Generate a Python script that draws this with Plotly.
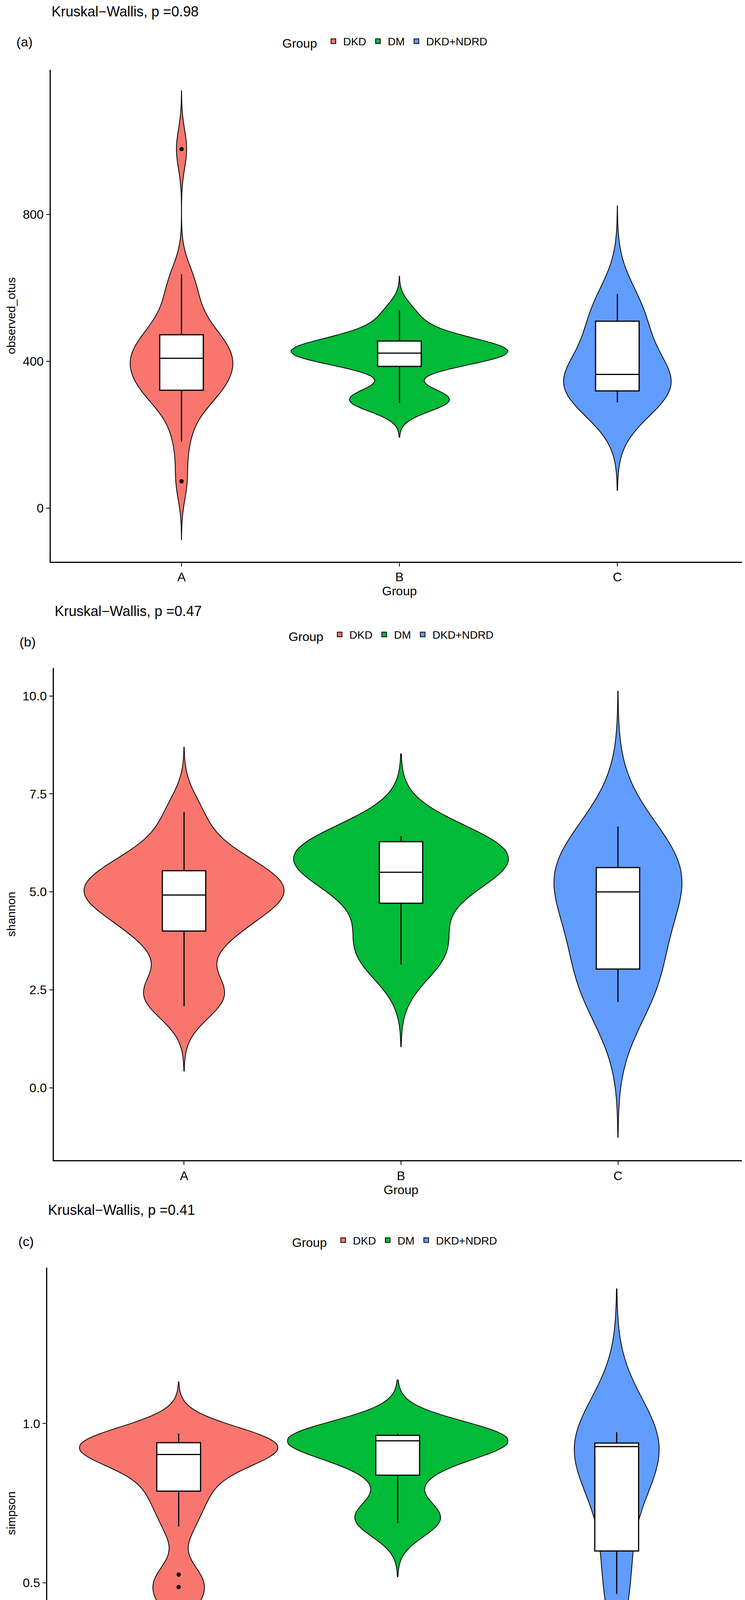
import plotly.graph_objects as go

W, H = 1908, 7648
groups = ["A", "B", "C"]
group_names = ["DKD", "DM", "DKD+NDRD"]
colors = ["#F8766D", "#00BA38", "#619CFF"]

panel_labels = ["(a)", "(b)", "(c)", "(d)", "(e)"]
metrics = ["observed_otus", "shannon", "simpson", "chao1", "pielou_e"]
p_values = ["0.98", "0.47", "0.41", "0.99", "0.3"]

# samples per group
otus_A = [73, 181, 250, 290, 310, 321, 330, 345, 360, 375, 390, 400, 408, 415, 430, 445, 460, 472, 490, 520, 560, 600, 637, 978]
otus_B = [286, 290, 295, 300, 305, 386, 400, 410, 415, 420, 422, 425, 428, 432, 440, 450, 455, 470, 500, 539]
otus_C = [288, 300, 319, 330, 340, 350, 364, 380, 480, 509, 520, 583]
shannon_A = [2.08, 2.4, 2.6, 3.6, 4.0, 4.3, 4.6, 4.8, 4.92, 5.0, 5.2, 5.4, 5.54, 5.8, 6.2, 7.04]
shannon_B = [3.15, 3.5, 3.8, 4.71, 5.2, 5.5, 5.7, 5.9, 6.0, 6.1, 6.28, 6.42]
shannon_C = [2.19, 2.6, 3.03, 3.5, 4.6, 5.0, 5.3, 5.5, 5.62, 6.0, 6.67]
simpson_A = [0.433, 0.487, 0.526, 0.677, 0.75, 0.788, 0.84, 0.87, 0.90, 0.903, 0.92, 0.93, 0.935, 0.94, 0.95, 0.955, 0.969]
simpson_B = [0.687, 0.70, 0.72, 0.838, 0.90, 0.93, 0.946, 0.95, 0.955, 0.96, 0.963, 0.969]
simpson_C = [0.465, 0.6, 0.85, 0.92, 0.928, 0.935, 0.939, 0.973]
chao1_A = [74, 185, 250, 295, 320, 335, 345, 360, 380, 400, 415, 422, 430, 445, 465, 488, 510, 540, 590, 648, 990]
chao1_B = [287, 292, 298, 303, 310, 390, 405, 415, 425, 430, 433, 438, 445, 459, 475, 505, 541]
chao1_C = [293, 310, 328, 340, 355, 375, 395, 480, 520, 540, 588]
pielou_A = [0.265, 0.32, 0.35, 0.461, 0.52, 0.56, 0.565, 0.59, 0.61, 0.62, 0.631, 0.66, 0.711]
pielou_B = [0.385, 0.42, 0.44, 0.537, 0.62, 0.65, 0.67, 0.68, 0.70, 0.705, 0.714]
pielou_C = [0.262, 0.32, 0.356, 0.45, 0.58, 0.597, 0.62, 0.634, 0.68, 0.724]

samples = [
    [otus_A, otus_B, otus_C],
    [shannon_A, shannon_B, shannon_C],
    [simpson_A, simpson_B, simpson_C],
    [chao1_A, chao1_B, chao1_C],
    [pielou_A, pielou_B, pielou_C],
]

# box statistics per group: q1, median, q3, lower whisker, upper whisker
box_q1 = [[321, 386, 319], [4.0, 4.71, 3.03], [0.788, 0.838, 0.60], [335, 390, 328], [0.461, 0.537, 0.356]]
box_med = [[408, 422, 364], [4.92, 5.50, 5.0], [0.903, 0.946, 0.928], [422, 430, 375], [0.565, 0.650, 0.597]]
box_q3 = [[472, 455, 509], [5.54, 6.28, 5.62], [0.940, 0.963, 0.939], [488, 459, 520], [0.631, 0.705, 0.634]]
box_lo = [[181, 286, 288], [2.08, 3.15, 2.19], [0.677, 0.687, 0.465], [185, 287, 293], [0.265, 0.385, 0.262]]
box_hi = [[637, 539, 583], [7.04, 6.42, 6.67], [0.969, 0.969, 0.973], [648, 541, 588], [0.711, 0.714, 0.724]]
outliers = [[[978, 73], [], []], [[], [], []], [[0.526, 0.487, 0.433], [], []], [[990, 74], [], []], [[], [], []]]

y_ticks = [[0, 400, 800], [0.0, 2.5, 5.0, 7.5, 10.0], [0.0, 0.5, 1.0], [0, 400, 800, 1200], [0.0, 0.4, 0.8]]
y_ticktext = [["0", "400", "800"], ["0.0", "2.5", "5.0", "7.5", "10.0"], ["0.0", "0.5", "1.0"],
              ["0", "400", "800", "1200"], ["0.0", "0.4", "0.8"]]

# ---- layout / style (pixel geometry) ----
y_ranges = [[-146, 1194], [-1.85, 10.71], [-0.053, 1.49], [-149, 1211], [-0.168, 1.153]]
bandwidths = [[53, 31, 80], [0.55, 0.70, 1.15], [0.054, 0.056, 0.15], [54, 31, 79], [0.058, 0.075, 0.123]]
vwidths = [[0.47, 0.995, 0.49], [0.92, 0.99, 0.59], [0.90, 1.0, 0.385], [0.45, 0.995, 0.48], [1.0, 1.0, 0.6]]
ax_top = [163, 1697, 3234, 4772, 6308]
ax_bot = [1424, 2959, 4494, 6033, 7568]
ax_left = [122, 130, 113, 140, 113]
kw_pos = [(122, 14), (130, 1551), (113, 3086), (140, 4622), (113, 6159)]
lab_pos = [(55, 91), (63, 1630), (59, 3167), (51, 4690), (61, 6241)]
leg_pos = [(713, 91), (729, 1612), (738, 3165), (722, 4699), (715, 6237)]

FONT = "Liberation Sans"
fig = go.Figure()
layout = dict(width=W, height=H, margin=dict(l=0, r=0, t=0, b=0), paper_bgcolor="white",
              plot_bgcolor="white", violinmode="overlay", boxmode="overlay",
              font=dict(family=FONT, color="black"), annotations=[], shapes=[])

for p in range(5):
    xa = "x" if p == 0 else f"x{p+1}"
    ya = "y" if p == 0 else f"y{p+1}"
    leg = "legend" if p == 0 else f"legend{p+1}"
    for g in range(3):
        data = samples[p][g]
        bw = bandwidths[p][g]
        fig.add_trace(go.Violin(
            x=[groups[g]] * len(data), y=data, name=group_names[g], legend=leg,
            fillcolor=colors[g], line=dict(color="black", width=2), opacity=1,
            width=vwidths[p][g], scalemode="width", bandwidth=bw, spanmode="manual",
            span=[min(data) - 3 * bw, max(data) + 3 * bw], points=False,
            box_visible=False, meanline_visible=False, hoverinfo="skip",
            xaxis=xa, yaxis=ya, showlegend=True))
    for g in range(3):
        fig.add_trace(go.Box(
            x=[groups[g]], q1=[box_q1[p][g]], median=[box_med[p][g]], q3=[box_q3[p][g]],
            lowerfence=[box_lo[p][g]], upperfence=[box_hi[p][g]], width=0.2, whiskerwidth=0,
            fillcolor="white", line=dict(color="black", width=3), boxpoints=False,
            showlegend=False, xaxis=xa, yaxis=ya, hoverinfo="skip"))
        if outliers[p][g]:
            fig.add_trace(go.Scatter(
                x=[groups[g]] * len(outliers[p][g]), y=outliers[p][g], mode="markers",
                marker=dict(color="black", size=11), showlegend=False, xaxis=xa, yaxis=ya))

    ydom = [1 - ax_bot[p] / H, 1 - ax_top[p] / H]
    xdom = [ax_left[p] / W, 1.0]
    axis_common = dict(showline=True, linecolor="black", linewidth=2.5, ticks="outside",
                       ticklen=9, tickwidth=2, tickcolor="black", showgrid=False, zeroline=False,
                       tickfont=dict(size=32, family=FONT, color="black"))
    layout["xaxis" if p == 0 else f"xaxis{p+1}"] = dict(
        domain=xdom, anchor=ya, type="category", categoryorder="array", categoryarray=groups,
        range=[-0.6, 2.6], title=dict(text="Group", font=dict(size=32, family=FONT), standoff=4),
        **axis_common)
    layout["yaxis" if p == 0 else f"yaxis{p+1}"] = dict(
        domain=ydom, anchor=xa, range=y_ranges[p], tickvals=y_ticks[p], ticktext=y_ticktext[p],
        title=dict(text=metrics[p], font=dict(size=30, family=FONT), standoff=10), **axis_common)
    layout[leg] = dict(orientation="h", x=leg_pos[p][0] / W, y=1 - leg_pos[p][1] / H,
                       xanchor="left", yanchor="middle", bgcolor="rgba(0,0,0,0)",
                       title=dict(text="Group ", side="left", font=dict(size=32, family=FONT)),
                       font=dict(size=28, family=FONT), itemsizing="constant", itemwidth=40,
                       tracegroupgap=0)
    layout["annotations"].append(dict(
        text=f"Kruskal\u2212Wallis, p ={p_values[p]}", xref="paper", yref="paper",
        x=kw_pos[p][0] / W, y=1 - kw_pos[p][1] / H, xanchor="left", yanchor="middle",
        showarrow=False, font=dict(size=36, family=FONT)))
    layout["annotations"].append(dict(
        text=panel_labels[p], xref="paper", yref="paper", x=lab_pos[p][0] / W,
        y=1 - lab_pos[p][1] / H, xanchor="center", yanchor="middle", showarrow=False,
        font=dict(size=34, family=FONT)))

# significance bracket in panel (e)
ns_y = [0.749, 0.741]
layout["shapes"] += [
    dict(type="line", xref="x5", yref="y5", x0="A", x1="B", y0=ns_y[0], y1=ns_y[0], line=dict(color="black", width=1)),
    dict(type="line", xref="x5", yref="y5", x0="A", x1="A", y0=ns_y[0], y1=ns_y[1], line=dict(color="black", width=1)),
    dict(type="line", xref="x5", yref="y5", x0="B", x1="B", y0=ns_y[0], y1=ns_y[1], line=dict(color="black", width=1)),
]
layout["annotations"].append(dict(text="ns", xref="paper", yref="y5", x=729 / W, y=0.773,
                                  showarrow=False, font=dict(size=26, family=FONT)))

fig.update_layout(**layout)
fig.write_html("out.html")
